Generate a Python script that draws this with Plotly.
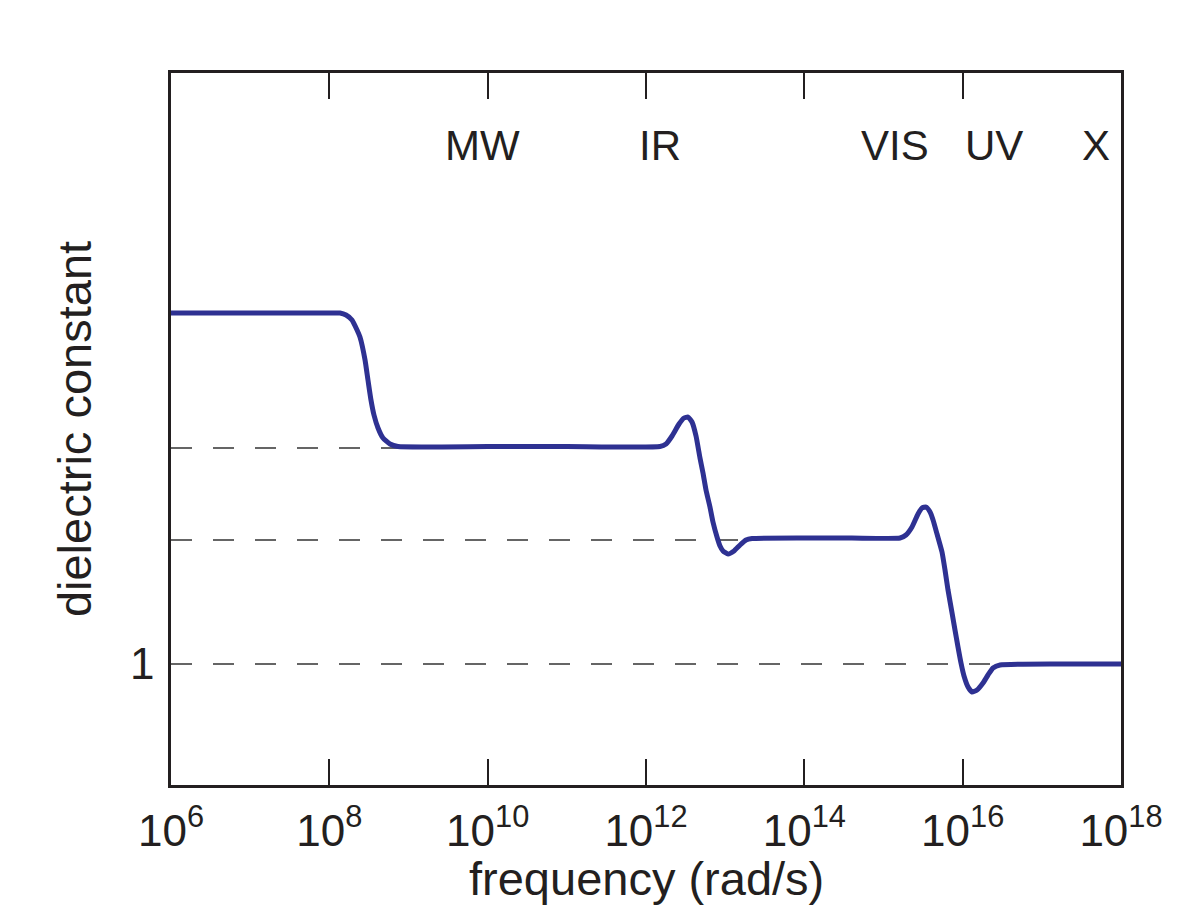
import plotly.graph_objects as go

# ---- data ----
# log10 of angular frequency (rad/s) and dielectric constant along the curve
log_freq = [6.000, 7.000, 8.000, 8.135, 8.211, 8.286, 8.350, 8.387, 8.451, 8.488, 8.526, 8.564,
            8.615, 8.678, 8.766, 8.867, 10.000, 11.000,
            12.177, 12.253, 12.329, 12.417, 12.480, 12.531, 12.581, 12.632, 12.682,
            12.720, 12.758, 12.808, 12.846, 12.897, 12.935, 12.973, 13.036, 13.112,
            13.188, 13.263, 13.339, 14.000, 14.600,
            15.209, 15.284, 15.360, 15.436, 15.486, 15.537, 15.588, 15.626, 15.676,
            15.739, 15.777, 15.815, 15.866, 15.903, 15.941, 15.979, 16.017, 16.068,
            16.118, 16.181, 16.257, 16.320, 16.383, 16.472, 17.200, 18.000]
epsilon = [3.808, 3.808, 3.808, 3.808, 3.792, 3.752, 3.672, 3.616, 3.432, 3.272, 3.112, 2.992,
           2.888, 2.808, 2.760, 2.740, 2.740, 2.740,
           2.740, 2.760, 2.824, 2.920, 2.968, 2.976, 2.936, 2.824, 2.648,
           2.528, 2.392, 2.256, 2.136, 2.016, 1.944, 1.904, 1.880, 1.904,
           1.952, 1.992, 2.004, 2.008, 2.008,
           2.008, 2.032, 2.096, 2.200, 2.248, 2.256, 2.216, 2.152, 2.040,
           1.896, 1.752, 1.592, 1.408, 1.272, 1.136, 1.008, 0.904, 0.816,
           0.776, 0.792, 0.848, 0.912, 0.968, 0.992, 1.000, 1.000]

# dashed reference levels: level value and log10 frequency where the dash ends
ref_levels = [2.728, 1.992, 1.000]
ref_end_logf = [8.93, 13.25, 16.47]

tick_exp = [6, 8, 10, 12, 14, 16, 18]
band_labels = ["MW", "IR", "VIS", "UV", "X"]
band_logf = [9.93, 12.18, 15.15, 16.40, 17.68]

# ---- styling ----
INK = "#231f20"
BLUE = "#2e3192"
FONT = "Liberation Sans, Arial, Helvetica, sans-serif"

freq = [10 ** v for v in log_freq]

fig = go.Figure()

for lvl, end in zip(ref_levels, ref_end_logf):
    fig.add_trace(go.Scatter(
        x=[10 ** tick_exp[0], 10 ** end], y=[lvl, lvl], mode="lines",
        line=dict(color="#333333", width=1.4, dash="21px,21px"),
        hoverinfo="skip", showlegend=False))

fig.add_trace(go.Scatter(
    x=freq, y=epsilon, mode="lines",
    line=dict(color=BLUE, width=5, shape="spline", smoothing=0.45),
    showlegend=False))

for lab, lf in zip(band_labels, band_logf):
    fig.add_annotation(x=lf, y=0.8975, xref="x", yref="paper", text=lab,
                       showarrow=False, xanchor="center", yanchor="middle",
                       font=dict(family=FONT, size=42, color=INK))

fig.add_annotation(x=0.5, y=-0.131, xref="paper", yref="paper",
                   text="frequency (rad/s)", showarrow=False,
                   xanchor="center", yanchor="middle",
                   font=dict(family=FONT, size=47, color=INK))
fig.add_annotation(x=-0.102, y=0.5, xref="paper", yref="paper",
                   text="dielectric constant", showarrow=False, textangle=-90,
                   xanchor="center", yanchor="middle",
                   font=dict(family=FONT, size=47, color=INK))

fig.update_xaxes(
    type="log", range=[tick_exp[0], tick_exp[-1]],
    tickvals=[10 ** e for e in tick_exp],
    ticktext=[f"10<sup>{e}</sup>" for e in tick_exp],
    ticks="inside", ticklen=26, tickwidth=2, tickcolor=INK,
    showline=True, linewidth=2.5, linecolor=INK, mirror="ticks",
    showgrid=False, zeroline=False, ticklabelstandoff=5,
    tickfont=dict(family=FONT, size=44, color=INK))
fig.update_yaxes(
    range=[0.032, 5.728], tickvals=[1], ticktext=["1"], ticks="",
    showline=True, linewidth=2.5, linecolor=INK, mirror=True,
    showgrid=False, zeroline=False, ticklabelstandoff=5,
    tickfont=dict(family=FONT, size=44, color=INK))

fig.update_layout(
    width=1183, height=902,
    margin=dict(l=163, r=70, t=65, b=125, pad=0),
    paper_bgcolor="white", plot_bgcolor="white",
    font=dict(family=FONT, color=INK),
    showlegend=False)

fig.write_html("out.html")
